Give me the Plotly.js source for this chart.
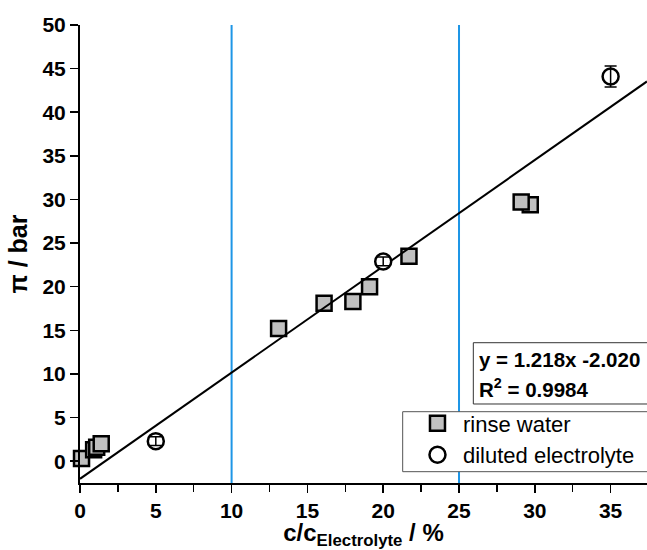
<!DOCTYPE html>
<html>
<head>
<meta charset="utf-8">
<script src="https://cdn.plot.ly/plotly-3.0.1.min.js"></script>
<style>
  html, body { margin: 0; padding: 0; background: #fff; }
  #chart { width: 647px; height: 550px; }
</style>
</head>
<body>
<div id="chart"></div>
<script>
// Osmotic pressure vs. relative concentration
const rinseX = [0.1, 0.9, 1.1, 1.4, 13.1, 16.1, 18.0, 19.1, 21.7, 29.7, 29.1];
const rinseY = [0.3, 1.3, 1.6, 2.0, 15.2, 18.1, 18.3, 20.0, 23.5, 29.4, 29.7];

const dilutedX = [5, 20, 35];
const dilutedY = [2.3, 22.9, 44.1];
const dilutedErr = [0.5, 0.5, 1.2];

// linear fit reported in the equation box
const fitSlope = 1.218;
const fitIntercept = -2.020;
const fitX = [0, 37.4];
const fitY = fitX.map(x => fitSlope * x + fitIntercept);

// reference concentrations marked by vertical lines
const markerLinesX = [10, 25];

const xTicks = [0, 5, 10, 15, 20, 25, 30, 35];
const yTicks = [0, 5, 10, 15, 20, 25, 30, 35, 40, 45, 50];

const FONT = "Liberation Sans, Arial, sans-serif";
const BLUE = "rgb(30,150,230)";

const traces = [
  {
    x: rinseX, y: rinseY, name: "rinse water", type: "scatter", mode: "markers",
    legendgroup: "a",
    marker: { symbol: "square", size: 15, color: "#c0c0c0", line: { color: "#000", width: 2.5 } },
    cliponaxis: false
  },
  {
    x: fitX, y: fitY, type: "scatter", mode: "lines", showlegend: false,
    line: { color: "#000", width: 2 }, hoverinfo: "skip"
  },
  {
    x: dilutedX, y: dilutedY, name: "diluted electrolyte", type: "scatter", mode: "markers",
    legendgroup: "b",
    marker: { symbol: "circle", size: 16, color: "#fff", line: { color: "#000", width: 2.5 } },
    cliponaxis: false
  },
  {
    x: dilutedX, y: dilutedY, type: "scatter", mode: "markers", showlegend: false,
    marker: { size: 1, opacity: 0 },
    error_y: { type: "data", array: dilutedErr, visible: true, color: "#000", thickness: 1.5, width: 6 },
    cliponaxis: false
  }
];

const shapes = markerLinesX.map(v => ({
  type: "line", xref: "x", yref: "paper", x0: v, x1: v, y0: 0, y1: 1,
  line: { color: BLUE, width: 2 }, layer: "below"
}));

// equation box
shapes.push({
  type: "rect", xref: "paper", yref: "paper",
  x0: 0.6937, x1: 1.05, y0: 0.1725, y1: 0.3063,
  line: { color: "#333", width: 1 }, fillcolor: "rgba(0,0,0,0)"
});
// legend frame
shapes.push({
  type: "rect", xref: "paper", yref: "paper",
  x0: 0.5691, x1: 1.05, y0: 0.0247, y1: 0.1557,
  line: { color: "#555", width: 1 }, fillcolor: "#fff", layer: "above"
});

const layout = {
  width: 647, height: 550,
  margin: { l: 80, r: 0, t: 25, b: 67 },
  paper_bgcolor: "#fff", plot_bgcolor: "#fff",
  font: { family: FONT, color: "#000" },
  showlegend: true,
  legend: {
    x: 0.5855, y: 0.176, xanchor: "left", yanchor: "top",
    bgcolor: "rgba(0,0,0,0)", borderwidth: 0,
    font: { family: FONT, size: 22, color: "#000" },
    traceorder: "grouped", tracegroupgap: 0, itemwidth: 41
  },
  xaxis: {
    range: [0, 37.4], showgrid: false, zeroline: false,
    showline: true, linecolor: "#000", linewidth: 2,
    ticks: "outside", ticklen: 8, tickwidth: 1.5, tickcolor: "#000",
    tickvals: xTicks, ticktext: xTicks.map(String),
    minor: { dtick: 2.5, tick0: 0, ticks: "outside", ticklen: 7, tickwidth: 1.5, tickcolor: "#000" },
    tickfont: { family: FONT, size: 21, weight: "bold" },
    title: { text: "c/c<sub>Electrolyte</sub> / %", font: { family: FONT, size: 24, weight: "bold" }, standoff: 9 }
  },
  yaxis: {
    range: [-2.5, 50], showgrid: false, zeroline: false,
    showline: true, linecolor: "#000", linewidth: 2,
    ticks: "outside", ticklen: 8, tickwidth: 1.5, tickcolor: "#000",
    tickvals: yTicks, ticktext: yTicks.map(String),
    tickfont: { family: FONT, size: 21, weight: "bold" },
    title: { text: "π / bar", font: { family: FONT, size: 25, weight: "bold" }, standoff: 8 }
  },
  shapes: shapes,
  annotations: [
    {
      xref: "paper", yref: "paper", x: 0.700, y: 0.2707, xanchor: "left", yanchor: "middle",
      text: "y = " + fitSlope.toFixed(3) + "x " + fitIntercept.toFixed(3),
      showarrow: false, font: { family: FONT, size: 20.5, weight: "bold", color: "#000" }
    },
    {
      xref: "paper", yref: "paper", x: 0.700, y: 0.2074, xanchor: "left", yanchor: "middle",
      text: "R<sup>2</sup> = 0.9984",
      showarrow: false, font: { family: FONT, size: 20.5, weight: "bold", color: "#000" }
    }
  ]
};

Plotly.newPlot("chart", traces, layout, { displayModeBar: false, staticPlot: true });
</script>
</body>
</html>
